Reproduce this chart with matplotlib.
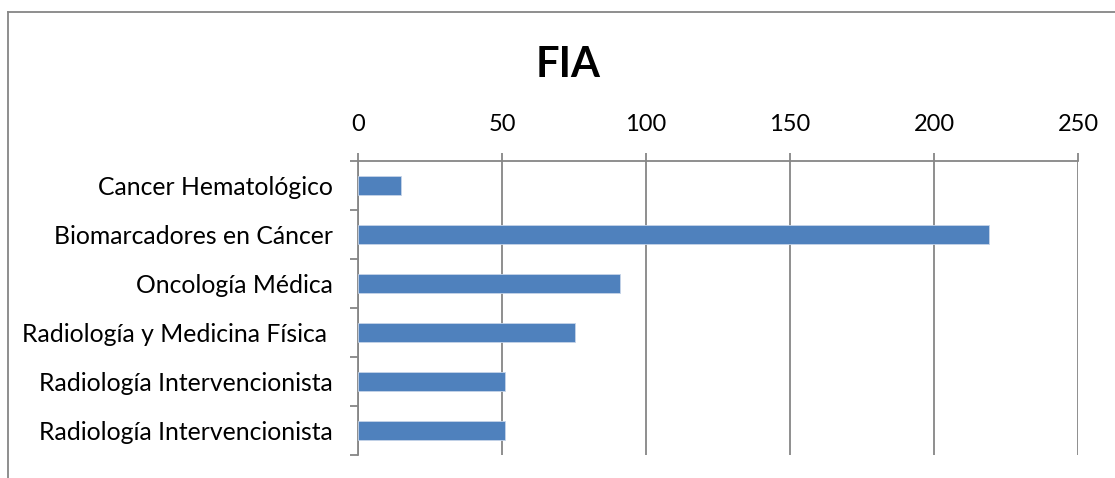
import matplotlib
matplotlib.use("Agg")
import matplotlib.pyplot as plt
from matplotlib.lines import Line2D
import numpy as np

# Datos
categorias = ["Cancer Hematológico", "Biomarcadores en Cáncer", "Oncología Médica",
              "Radiología y Medicina Física ", "Radiología Intervencionista",
              "Radiología Intervencionista"]
valores = [15, 219, 91, 75.5, 51, 51]
ticks_x = [0, 50, 100, 150, 200, 250]

plt.rcParams['font.family'] = ['Lato', 'DejaVu Sans']

fig = plt.figure(figsize=(11.15, 4.78), dpi=100)
ax = fig.add_axes([358 / 1115, 1 - 455 / 478, 720 / 1115, 294 / 478])

gris = '#868686'
azul = '#4F81BD'

y = np.arange(len(categorias))
ax.barh(y, valores, height=0.4, color=azul, edgecolor='#c6d4e8', linewidth=0.6, zorder=3)

ax.set_xlim(0, 250)
ax.set_ylim(len(categorias) - 0.5, -0.5)

# Eje X arriba
ax.xaxis.tick_top()
ax.set_xticks(ticks_x)
ax.set_xticklabels([str(t) for t in ticks_x])
ax.tick_params(axis='x', which='major', length=5.5, width=1.3, color=gris,
               labelsize=17, pad=13)
ax.grid(axis='x', color=gris, linewidth=1.3, zorder=1)

# Eje Y: etiquetas en el centro, marcas en los limites
ax.set_yticks(y)
ax.set_yticklabels(categorias)
ax.set_yticks(np.arange(-0.5, len(categorias), 1), minor=True)
ax.tick_params(axis='y', which='major', length=0, labelsize=17.8, pad=18)
ax.tick_params(axis='y', which='minor', length=5.5, width=1.3, color=gris)

for s in ['right', 'bottom']:
    ax.spines[s].set_visible(False)
for s in ['left', 'top']:
    ax.spines[s].set_color(gris)
    ax.spines[s].set_linewidth(1.3)

# Titulo
fig.text(568 / 1115, 1 - 65 / 478, "FIA", fontsize=30, fontweight='bold',
         ha='center', va='center')

# Marco del grafico
fig.add_artist(Line2D([8 / 1115, 8 / 1115], [0, 1 - 11.5 / 478], color=gris, linewidth=1.3,
                      transform=fig.transFigure))
fig.add_artist(Line2D([8 / 1115, 1], [1 - 11.5 / 478, 1 - 11.5 / 478], color=gris, linewidth=1.3,
                      transform=fig.transFigure))

fig.savefig("out.png", dpi=100)
